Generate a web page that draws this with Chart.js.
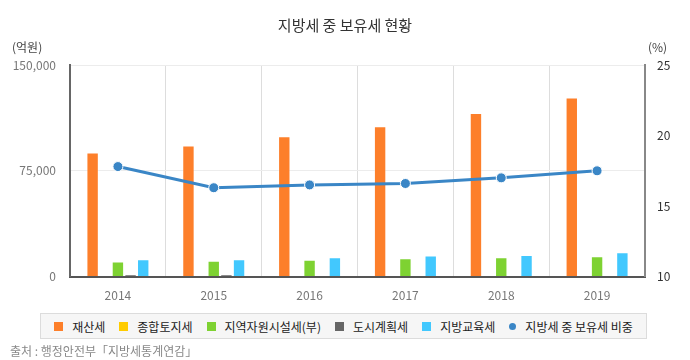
<!DOCTYPE html>
<html>
<head>
<meta charset="utf-8">
<script src="https://cdn.jsdelivr.net/npm/chart.js@4"></script>
<style>
  body { margin: 0; background: #fff; font-family: "Noto Sans CJK KR", sans-serif; }
  #wrap { position: relative; width: 690px; height: 360px; }
  canvas { position: absolute; left: 0; top: 0; }
  .txt { position: absolute; white-space: nowrap; }
  #title { left: 0; width: 690px; top: 14px; text-align: center; font-size: 15px; color: #333; }
  #unitL { left: 12px; top: 38px; font-size: 12px; color: #444; }
  #unitR { left: 648px; top: 38px; font-size: 12px; color: #444; }
  #legend { position: absolute; left: 40px; top: 313px; width: 605px; height: 24px;
            border: 1px solid #dcdcdc; background: #f6f6f6;
            display: flex; align-items: center; justify-content: center; font-size: 12px; color: #222;
            white-space: nowrap; }
  .item { display: flex; align-items: center; margin: 0 7px; flex-shrink: 0; }
  .sw { width: 9px; height: 9px; margin-right: 9px; }
  .dot { width: 7px; height: 7px; border-radius: 50%; margin-right: 9px; }
  #source { left: 10px; top: 342px; font-size: 12px; color: #888; }
</style>
</head>
<body>
<div id="wrap">
  <canvas id="chart" width="690" height="360"></canvas>
  <div class="txt" id="title">지방세 중 보유세 현황</div>
  <div class="txt" id="unitL">(억원)</div>
  <div class="txt" id="unitR">(%)</div>
  <div id="legend"></div>
  <div class="txt" id="source">출처 : 행정안전부「지방세통계연감」</div>
</div>
<script>
// 연도
const years = ["2014", "2015", "2016", "2017", "2018", "2019"];

// 세목별 금액 (억원)
const jaesanse     = [88000, 93000, 99500, 106500, 116000, 127000];
const jonghapTojise = [0, 0, 0, 0, 0, 0];
const jiyeokJawon  = [10700, 11300, 12000, 13000, 13700, 14400];
const dosiGyehoek  = [1600, 1500, 0, 0, 0, 0];
const jibangGyoyuk = [12300, 12300, 13700, 14900, 15400, 17300];

// 지방세 중 보유세 비중 (%)
const boyuseRatio = [17.8, 16.3, 16.5, 16.6, 17.0, 17.5];

const barNames  = ["재산세", "종합토지세", "지역자원시설세(부)", "도시계획세", "지방교육세"];
const barData   = [jaesanse, jonghapTojise, jiyeokJawon, dosiGyehoek, jibangGyoyuk];
const barColors = ["#fd7f2a", "#ffcc00", "#7ed232", "#666666", "#42c8fe"];
const lineName  = "지방세 중 보유세 비중";
const lineColor = "#3a86c6";

const datasets = barNames.map((name, i) => ({
    type: "bar",
    label: name,
    data: barData[i],
    backgroundColor: barColors[i],
    borderColor: "rgba(255,255,255,0.35)",
    borderWidth: 1,
    yAxisID: "y",
    order: 1
}));

datasets.push({
    type: "line",
    label: lineName,
    data: boyuseRatio,
    borderColor: lineColor,
    backgroundColor: lineColor,
    borderWidth: 3,
    pointRadius: 5,
    pointBorderColor: "#fff",
    pointBorderWidth: 1,
    tension: 0,
    yAxisID: "y1",
    order: 0
});

const font = { family: "'Noto Sans CJK KR', sans-serif", size: 12 };

new Chart(document.getElementById("chart"), {
    data: { labels: years, datasets: datasets },
    options: {
        responsive: false,
        animation: false,
        layout: { padding: { top: 65, bottom: 45, left: 0, right: 0 } },
        plugins: {
            legend: { display: false },
            title: { display: false },
            tooltip: { enabled: false }
        },
        datasets: {
            bar: { categoryPercentage: 0.66, barPercentage: 0.98 }
        },
        scales: {
            x: {
                grid: { color: "#dddddd", offset: true, drawTicks: false },
                border: { color: "#555", width: 2 },
                ticks: { color: "#777", font: font, padding: 12 }
            },
            y: {
                position: "left",
                min: 0, max: 150000,
                afterFit: s => { s.width = 70; },
                grid: { color: "#ececec", drawTicks: false },
                border: { color: "#666", width: 2 },
                ticks: {
                    stepSize: 75000, color: "#777", font: font, padding: 14,
                    callback: v => v.toLocaleString("en-US")
                }
            },
            y1: {
                position: "right",
                min: 10, max: 25,
                afterFit: s => { s.width = 45; },
                grid: { drawOnChartArea: false, drawTicks: false },
                border: { color: "#888", width: 2 },
                ticks: { stepSize: 5, color: "#333", font: font, padding: 12 }
            }
        }
    }
});

// HTML 범례
const legend = document.getElementById("legend");
barNames.forEach((name, i) => {
    legend.insertAdjacentHTML("beforeend",
        `<span class="item"><span class="sw" style="background:${barColors[i]}"></span>${name}</span>`);
});
legend.insertAdjacentHTML("beforeend",
    `<span class="item"><span class="dot" style="background:${lineColor}"></span>${lineName}</span>`);
</script>
</body>
</html>
